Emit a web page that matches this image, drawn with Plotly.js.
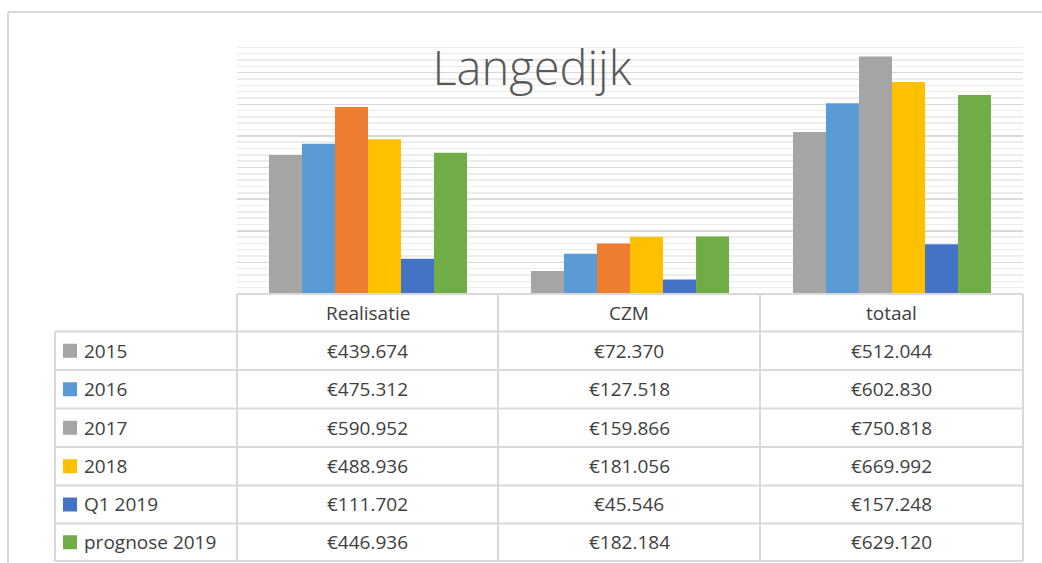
<!DOCTYPE html>
<html>
<head>
<meta charset="utf-8">
<script src="https://cdn.plot.ly/plotly-3.0.1.min.js"></script>
<style>html,body{margin:0;padding:0;background:#fff;}#chart{width:1042px;height:563px;}</style>
</head>
<body>
<div id="chart"></div>
<script>
// ---- data ----
const categories = ['Realisatie', 'CZM', 'totaal'];
const seriesNames = ['2015', '2016', '2017', '2018', 'Q1 2019', 'prognose 2019'];
const v2015 = [439674, 72370, 512044];
const v2016 = [475312, 127518, 602830];
const v2017 = [590952, 159866, 750818];
const v2018 = [488936, 181056, 669992];
const vQ1_2019 = [111702, 45546, 157248];
const vPrognose2019 = [446936, 182184, 629120];
const seriesValues = [v2015, v2016, v2017, v2018, vQ1_2019, vPrognose2019];

// ---- styles ----
const seriesColors = ['#A5A5A5', '#5B9BD5', ['#ED7D31', '#ED7D31', '#A5A5A5'], '#FFC000', '#4472C4', '#70AD47'];
const legendColors = ['#A5A5A5', '#5B9BD5', '#A5A5A5', '#FFC000', '#4472C4', '#70AD47'];

const W = 1042, H = 563;
const plotL = 237, plotR = 1023, plotT = 41, plotB = 294;
const px = x => (x - plotL) / (plotR - plotL);
const py = y => (plotB - y) / (plotB - plotT);

function euro(n) {
  const s = String(Math.round(n));
  return '€' + s.replace(/\B(?=(\d{3})+(?!\d))/g, '.');
}

const traces = seriesNames.map((name, i) => ({
  type: 'bar',
  name: name,
  x: categories,
  y: seriesValues[i],
  marker: { color: seriesColors[i], line: { width: 0 } },
  hoverinfo: 'x+y+name',
  showlegend: false
}));

const lineColor = '#D9D9D9';
const shapes = [];
const annotations = [];

// chart outer border (top and left)
shapes.push({ type: 'line', xref: 'paper', yref: 'paper', x0: px(8), x1: px(1042), y0: py(12), y1: py(12), line: { color: lineColor, width: 2 } });
shapes.push({ type: 'line', xref: 'paper', yref: 'paper', x0: px(8), x1: px(8), y0: py(12), y1: py(563), line: { color: lineColor, width: 2 } });

// data table grid
const colX = [237, 498, 760, 1023];
const rowY = [294, 331.5, 370, 408.5, 447, 485.5, 523.5, 561];
const tableLeft = 55;
shapes.push({ type: 'line', xref: 'paper', yref: 'paper', x0: px(colX[0]), x1: px(colX[3]), y0: py(rowY[0]), y1: py(rowY[0]), line: { color: lineColor, width: 2 } });
for (let r = 1; r < rowY.length; r++) {
  shapes.push({ type: 'line', xref: 'paper', yref: 'paper', x0: px(tableLeft), x1: px(colX[3]), y0: py(rowY[r]), y1: py(rowY[r]), line: { color: lineColor, width: 2 } });
}
colX.forEach(x => {
  shapes.push({ type: 'line', xref: 'paper', yref: 'paper', x0: px(x), x1: px(x), y0: py(rowY[0]), y1: py(rowY[rowY.length - 1]), line: { color: lineColor, width: 2 } });
});
shapes.push({ type: 'line', xref: 'paper', yref: 'paper', x0: px(tableLeft), x1: px(tableLeft), y0: py(rowY[1]), y1: py(rowY[rowY.length - 1]), line: { color: lineColor, width: 2 } });

const textFont = { family: 'Open Sans, Lato, sans-serif', size: 19, color: '#404040' };

// header labels
categories.forEach((c, j) => {
  annotations.push({ xref: 'paper', yref: 'paper', x: px((colX[j] + colX[j + 1]) / 2), y: py((rowY[0] + rowY[1]) / 2), text: c, showarrow: false, xanchor: 'center', yanchor: 'middle', font: textFont });
});

// rows
seriesNames.forEach((name, i) => {
  const yc = (rowY[i + 1] + rowY[i + 2]) / 2;
  shapes.push({ type: 'rect', xref: 'paper', yref: 'paper', x0: px(63), x1: px(77), y0: py(yc - 7), y1: py(yc + 7), fillcolor: legendColors[i], line: { width: 0 } });
  annotations.push({ xref: 'paper', yref: 'paper', x: px(82), y: py(yc), text: name, showarrow: false, xanchor: 'left', yanchor: 'middle', font: textFont });
  seriesValues[i].forEach((v, j) => {
    annotations.push({ xref: 'paper', yref: 'paper', x: px((colX[j] + colX[j + 1]) / 2), y: py(yc), text: euro(v), showarrow: false, xanchor: 'center', yanchor: 'middle', font: textFont });
  });
});

const layout = {
  width: W, height: H,
  margin: { l: plotL, r: W - plotR, t: plotT, b: H - plotB, pad: 0 },
  paper_bgcolor: '#ffffff',
  plot_bgcolor: '#ffffff',
  title: { text: 'Langedijk', x: 532 / W, xanchor: 'center', y: 1 - 69 / H, yanchor: 'middle', font: { family: 'Open Sans, Lato, sans-serif', size: 47, color: '#595959', weight: 300 } },
  barmode: 'group',
  bargap: 0.244,
  bargroupgap: 0,
  showlegend: false,
  xaxis: { showticklabels: false, showgrid: false, zeroline: false, showline: false, ticks: '' },
  yaxis: {
    range: [0, 800000], dtick: 100000, showticklabels: false, ticks: '',
    showgrid: true, gridcolor: '#D9D9D9', gridwidth: 1.5, zeroline: false, showline: false,
    minor: { dtick: 20000, showgrid: true, gridcolor: '#EDEDED', gridwidth: 1.5 }
  },
  shapes: shapes,
  annotations: annotations
};

Plotly.newPlot('chart', traces, layout, { displayModeBar: false, staticPlot: true });
</script>
</body>
</html>
